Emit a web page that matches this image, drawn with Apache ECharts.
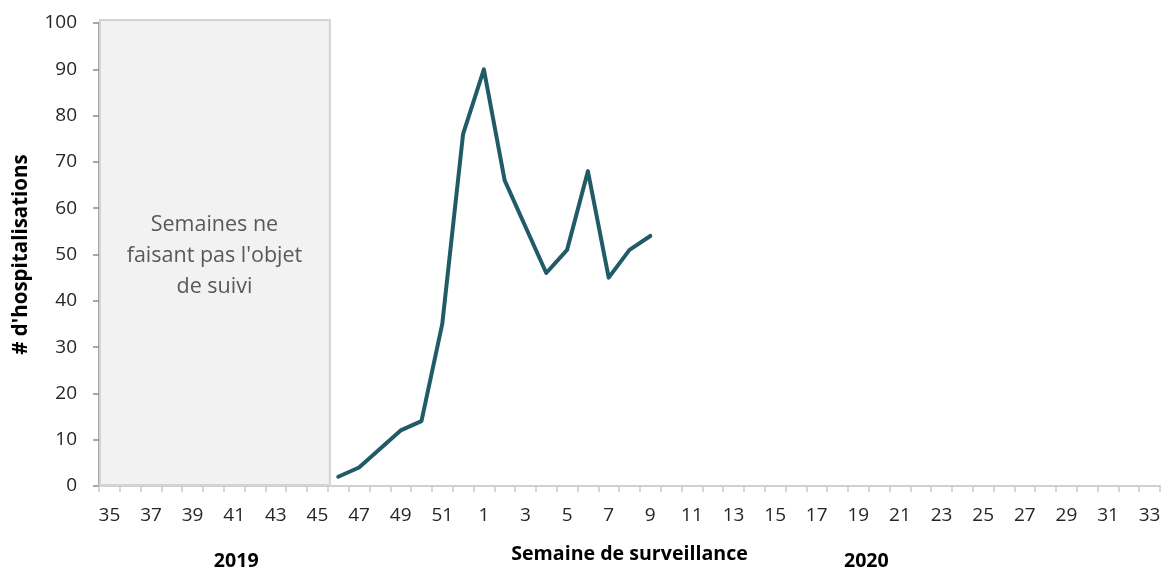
<!DOCTYPE html>
<html>
<head>
<meta charset="utf-8">
<script src="https://cdn.jsdelivr.net/npm/echarts@6/dist/echarts.min.js"></script>
<style>
html,body{margin:0;padding:0;background:#fff;overflow:hidden;}
#c{width:1169px;height:569px;}
</style>
</head>
<body>
<div id="c"></div>
<script>
const weeks = ['35','36','37','38','39','40','41','42','43','44','45','46','47','48','49','50','51','52',
  '1','2','3','4','5','6','7','8','9','10','11','12','13','14','15','16','17','18','19','20','21','22','23','24','25','26','27','28','29','30','31','32','33'];
const hospitalisations = [null,null,null,null,null,null,null,null,null,null,null,
  2,4,8,12,14,35,76,90,66,56,46,51,68,45,51,54];
const yTicks = [0,10,20,30,40,50,60,70,80,90,100];
const unmonitoredFrom = '35';
const unmonitoredTo = '45';
const unmonitoredText = "Semaines ne\nfaisant pas l'objet\nde suivi";
const yearLabels = ['2019','2020'];

const FONT = 'Open Sans';
const chart = echarts.init(document.getElementById('c'));
const option = {
  animation: false,
  textStyle: {fontFamily: FONT},
  grid: {left: 99, right: 9, top: 23, bottom: 76, containLabel: false},
  xAxis: {
    type: 'category',
    data: weeks,
    boundaryGap: true,
    axisLine: {lineStyle: {color: '#d0d0d0', width: 2}},
    axisTick: {show: true, interval: 0, length: 6, lineStyle: {color: '#c8c8c8', width: 1.5}},
    axisLabel: {interval: 1, color: '#262626', fontSize: 19, margin: 20, fontFamily: FONT},
    name: 'Semaine de surveillance',
    nameLocation: 'middle',
    nameGap: 58,
    nameTextStyle: {fontWeight: 'bold', fontSize: 19.6, color: '#000', fontFamily: FONT}
  },
  yAxis: {
    type: 'value',
    min: 0, max: 100, interval: 10,
    splitLine: {show: false},
    axisLine: {show: true, lineStyle: {color: '#a6a6a6', width: 2}},
    axisTick: {show: true, length: 6, lineStyle: {color: '#8c8c8c', width: 1.5}},
    axisLabel: {color: '#262626', fontSize: 19, margin: 22, fontFamily: FONT,
      formatter: v => yTicks.includes(v) ? String(v) : ''},
    name: "# d'hospitalisations",
    nameLocation: 'middle',
    nameGap: 67,
    nameRotate: 90,
    nameTextStyle: {fontWeight: 'bold', fontSize: 20.5, color: '#000', fontFamily: FONT}
  },
  series: [{
    type: 'line',
    data: hospitalisations,
    symbol: 'none',
    connectNulls: false,
    lineStyle: {color: '#205b67', width: 4, cap: 'round', join: 'round'},
    z: 5
  }]
};
chart.setOption(option);

const yTop = chart.convertToPixel({yAxisIndex: 0}, 100);
const yBot = chart.convertToPixel({yAxisIndex: 0}, 0);
const x0 = chart.convertToPixel({xAxisIndex: 0}, unmonitoredFrom);
const x1 = chart.convertToPixel({xAxisIndex: 0}, unmonitoredTo);
const xNext = chart.convertToPixel({xAxisIndex: 0}, weeks[1]);
const band = xNext - x0;
const left = x0 - band / 2, right = x1 + band / 2;
const x2019 = chart.convertToPixel({xAxisIndex: 0}, '41');
const x2020 = chart.convertToPixel({xAxisIndex: 0}, '19');
chart.setOption({
  graphic: [
    {type: 'rect', z: 1, silent: true,
      shape: {x: left + 1, y: yTop - 3, width: right - left + 1, height: yBot - yTop + 2},
      style: {fill: '#f2f2f2', stroke: '#d4d4d4', lineWidth: 2}},
    {type: 'text', z: 2, silent: true,
      style: {text: unmonitoredText, x: (left + right) / 2 + 1, y: (yTop + yBot) / 2 + 1,
        textAlign: 'center', textVerticalAlign: 'middle', fontSize: 21.5, lineHeight: 31,
        fill: '#595959', fontFamily: FONT}},
    {type: 'text', silent: true,
      style: {text: yearLabels[0], x: x2019 + 2, y: 561, textAlign: 'center', textVerticalAlign: 'middle',
        fontSize: 19.6, fontWeight: 'bold', fill: '#000', fontFamily: FONT}},
    {type: 'text', silent: true,
      style: {text: yearLabels[1], x: x2020 + 8, y: 561, textAlign: 'center', textVerticalAlign: 'middle',
        fontSize: 19.6, fontWeight: 'bold', fill: '#000', fontFamily: FONT}}
  ]
});
</script>
</body>
</html>
